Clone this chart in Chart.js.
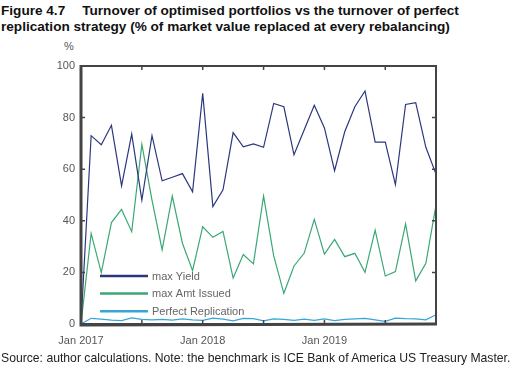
<!DOCTYPE html>
<html>
<head>
<meta charset="utf-8">
<script src="https://cdn.jsdelivr.net/npm/chart.js@4"></script>
<style>
  body { margin: 0; background: #fff; font-family: "Liberation Sans", Arial, sans-serif; }
  #wrap { position: relative; width: 516px; height: 368px; overflow: hidden; }
  #title { position: absolute; left: 1px; top: 3px; font-size: 13.6px; font-weight: bold; line-height: 16px; color: #111; white-space: nowrap; }
  #unit { position: absolute; left: 64px; top: 40px; font-size: 11px; color: #555; }
  #source { position: absolute; left: 1px; top: 351px; font-size: 12.2px; color: #222; white-space: nowrap; }
  canvas { position: absolute; left: 0; top: 0; }
</style>
</head>
<body>
<div id="wrap">
  <div id="title">Figure 4.7<span style="display:inline-block;width:17px"></span>Turnover of optimised portfolios vs the turnover of perfect<br>replication strategy (% of market value replaced at every rebalancing)</div>
  <div id="unit">%</div>
  <canvas id="turnoverChart" width="516" height="368"></canvas>
  <div id="source">Source: author calculations. Note: the benchmark is ICE Bank of America US Treasury Master.</div>
</div>
<script>
const years = [2017, 2018, 2019];
const monthNames = ['Jan', 'Feb', 'Mar', 'Apr', 'May', 'Jun', 'Jul', 'Aug', 'Sep', 'Oct', 'Nov', 'Dec'];
const months = [];
years.forEach(y => monthNames.forEach(m => months.push(m + ' ' + y)));

const maxYield = [0, 73, 69.5, 77, 53.5, 73.6, 48, 73, 55.5, 56.9, 58.3, 51.2,
  89.4, 45.5, 52, 74.2, 68.7, 69.8, 68.5, 85.5, 84.2, 65.6, 75.2, 84.8,
  76, 59.4, 74.5, 84.2, 90.3, 70.5, 70.5, 54, 85.1, 85.8, 68.5, 58.1];
const maxAmtIssued = [0, 35.1, 19.9, 39.3, 44.4, 35.8, 69.6, 48, 28.7, 49.6, 31.3, 20.7,
  37.7, 33.6, 35.9, 17.8, 26.9, 23.3, 49.6, 26.4, 11.9, 22.5, 27.4, 40.6,
  27.1, 32.8, 26.1, 27.4, 20, 36.4, 18.6, 20.3, 38.8, 16.7, 23.5, 46.1];
const perfectReplication = [0, 2.2, 1.9, 1.5, 1.3, 2.4, 1.8, 1.6, 1.8, 1.5, 2.0, 1.6,
  1.4, 2.3, 1.9, 1.2, 2.2, 2.1, 1.2, 2.0, 1.8, 1.4, 1.9, 1.4,
  2.0, 1.3, 1.8, 2.0, 2.2, 1.6, 1.0, 2.3, 2.1, 2.0, 1.6, 3.6];
const yTicks = [0, 20, 40, 60, 80, 100];

// frame, inward tick marks and the legend inside the plot
const framePlugin = {
  id: 'frame',
  afterDraw(chart) {
    const { ctx, chartArea: a, scales: { x, y } } = chart;
    ctx.save();
    ctx.strokeStyle = '#444';
    ctx.lineWidth = 2;
    ctx.strokeRect(a.left, a.top, a.right - a.left, a.bottom - a.top);
    ctx.lineWidth = 3;
    ctx.beginPath();
    ctx.moveTo(a.left, a.top - 1);
    ctx.lineTo(a.left, a.bottom + 1);
    ctx.lineTo(a.right + 1, a.bottom);
    ctx.stroke();
    ctx.lineWidth = 1.5;
    ctx.beginPath();
    months.forEach((m, i) => {
      if (i % 6 !== 0 || i === 0) return;
      const px = x.getPixelForValue(i);
      ctx.moveTo(px, a.top); ctx.lineTo(px, a.top + 4);
      ctx.moveTo(px, a.bottom); ctx.lineTo(px, a.bottom - 4);
    });
    yTicks.forEach(v => {
      if (v === 0 || v === 100) return;
      const py = y.getPixelForValue(v);
      ctx.moveTo(a.left, py); ctx.lineTo(a.left + 4, py);
      ctx.moveTo(a.right, py); ctx.lineTo(a.right - 4, py);
    });
    ctx.stroke();

    // legend
    ctx.font = '11px "Liberation Sans", Arial, sans-serif';
    ctx.textBaseline = 'middle';
    chart.data.datasets.forEach((ds, i) => {
      const ly = 276 + i * 17.6;
      ctx.strokeStyle = ds.borderColor;
      ctx.lineWidth = 2.5;
      ctx.beginPath();
      ctx.moveTo(100, ly); ctx.lineTo(148, ly);
      ctx.stroke();
      ctx.fillStyle = '#666';
      ctx.fillText(ds.label, 152, ly + 0.5);
    });
    ctx.restore();
  }
};

const ctx = document.getElementById('turnoverChart').getContext('2d');
const turnoverChart = new Chart(ctx, {
  type: 'line',
  data: {
    labels: months,
    datasets: [
      { label: 'max Yield', data: maxYield, borderColor: '#2c387e', borderWidth: 1.2 },
      { label: 'max Amt Issued', data: maxAmtIssued, borderColor: '#3aa874', borderWidth: 1.2 },
      { label: 'Perfect Replication', data: perfectReplication, borderColor: '#36a6d8', borderWidth: 1.2 }
    ]
  },
  options: {
    responsive: false,
    animation: false,
    layout: { padding: { left: 41, right: 80, top: 66, bottom: 0 } },
    elements: { point: { radius: 0 }, line: { tension: 0 } },
    plugins: { legend: { display: false }, tooltip: { enabled: false } },
    scales: {
      x: {
        type: 'category',
        offset: false,
        grid: { display: false, drawTicks: false },
        border: { display: false },
        afterFit: s => { s.height = 44; },
        ticks: {
          autoSkip: false,
          maxRotation: 0,
          padding: 10,
          color: '#555',
          font: { size: 11, family: '"Liberation Sans", Arial, sans-serif' },
          callback: (v, i) => (i % 12 === 0 ? months[i] : '')
        }
      },
      y: {
        min: 0,
        max: 100,
        grid: { display: false, drawTicks: false },
        border: { display: false },
        afterFit: s => { s.width = 40; },
        ticks: {
          stepSize: 20,
          padding: 6,
          color: '#555',
          font: { size: 11, family: '"Liberation Sans", Arial, sans-serif' }
        }
      }
    }
  },
  plugins: [framePlugin]
});
</script>
</body>
</html>
